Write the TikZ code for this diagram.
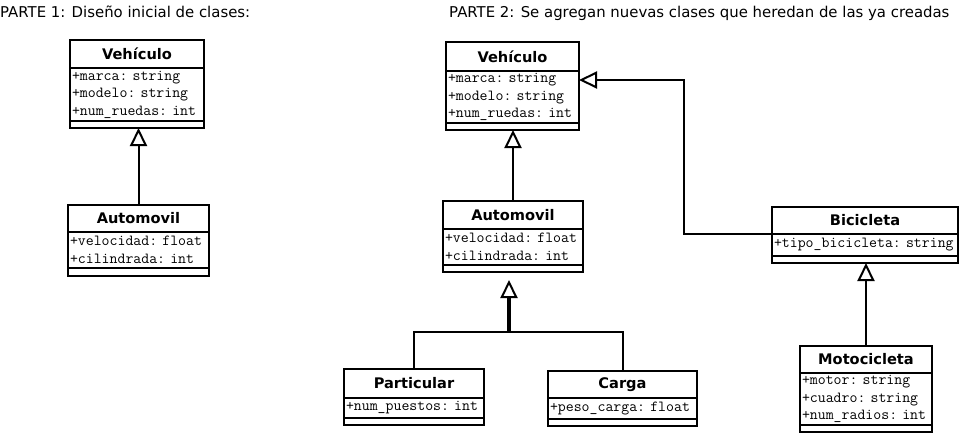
\documentclass[tikz,border=0pt]{standalone}
\usepackage{fontspec}
\setmainfont{DejaVu Sans}
\usetikzlibrary{positioning, arrows.meta}

\begin{document}
\begin{tikzpicture}[x=1pt, y=-1pt,
classname/.style={rectangle, draw=black, line width=2pt, outer sep=0pt, inner sep=0pt, minimum height=28pt, font=\fontsize{14.6}{16}\selectfont\bfseries},
classattr/.style={rectangle, draw=black, line width=2pt, outer sep=0pt, inner xsep=2pt, inner ysep=0pt, align=left, font=\fontsize{15.4}{17.5}\selectfont\ttfamily},
classops/.style={rectangle, draw=black, line width=2pt, outer sep=0pt, inner sep=0pt, minimum height=7pt},
inherit/.style={line width=2pt, -{Triangle[open, length=18pt, width=17pt, fill=white]}},
parttitle/.style={anchor=base west, inner sep=0pt, font=\fontsize{14.9}{16}\selectfont},
]
\useasboundingbox (0,0) rectangle (961,434);

%Titles
\node[parttitle] (p1) at (0,17) {PARTE 1: Diseño inicial de clases:};
\node[parttitle] (p2) at (449,17) {PARTE 2: Se agregan nuevas clases que heredan de las ya creadas};

%Part 1 classes
\node[classname, minimum width=134pt, anchor=north] (veh1) at (137,40) {Vehículo};
\node[classattr, text width=130pt, minimum height=53pt, below=0pt of veh1] (veh1a) {+marca:~string\\+modelo:~string\\+num\_ruedas:~int};
\node[classops, minimum width=134pt, below=0pt of veh1a] (veh1o) {};

\node[classname, minimum width=141pt, minimum height=27pt, anchor=north] (auto1) at (138.5,205) {Automovil};
\node[classattr, text width=137pt, minimum height=36pt, below=0pt of auto1] (auto1a) {+velocidad:~float\\+cilindrada:~int};
\node[classops, minimum width=141pt, minimum height=8pt, below=0pt of auto1a] (auto1o) {};

%Part 2 classes
\node[classname, minimum width=133pt, minimum height=29pt, anchor=north] (veh2) at (512.5,42) {Vehículo};
\node[classattr, text width=129pt, minimum height=52pt, below=0pt of veh2] (veh2a) {+marca:~string\\+modelo:~string\\+num\_ruedas:~int};
\node[classops, minimum width=133pt, below=0pt of veh2a] (veh2o) {};

\node[classname, minimum width=140pt, anchor=north] (auto2) at (513,201) {Automovil};
\node[classattr, text width=136pt, minimum height=36pt, below=0pt of auto2] (auto2a) {+velocidad:~float\\+cilindrada:~int};
\node[classops, minimum width=140pt, below=0pt of auto2a] (auto2o) {};

\node[classname, minimum width=140pt, minimum height=29pt, anchor=north] (part) at (414,369) {Particular};
\node[classattr, text width=136pt, minimum height=20pt, below=0pt of part] (parta) {+num\_puestos:~int};
\node[classops, minimum width=140pt, below=0pt of parta] (parto) {};

\node[classname, minimum width=149pt, minimum height=27pt, anchor=north] (carga) at (622.5,371) {Carga};
\node[classattr, text width=145pt, minimum height=21pt, below=0pt of carga] (cargaa) {+peso\_carga:~float};
\node[classops, minimum width=149pt, below=0pt of cargaa] (cargao) {};

\node[classname, minimum width=186pt, minimum height=27pt, anchor=north] (bici) at (865,207) {Bicicleta};
\node[classattr, text width=182pt, minimum height=22pt, below=0pt of bici] (bicia) {+tipo\_bicicleta:~string};
\node[classops, minimum width=186pt, below=0pt of bicia] (bicio) {};

\node[classname, minimum width=132pt, minimum height=27pt, anchor=north] (moto) at (866,346) {Motocicleta};
\node[classattr, text width=128pt, minimum height=52pt, below=0pt of moto] (motoa) {+motor:~string\\+cuadro:~string\\+num\_radios:~int};
\node[classops, minimum width=132pt, below=0pt of motoa] (motoo) {};

%Lines
\coordinate (bicibend) at (684,80);
\coordinate (genjoin) at (509,332);
\coordinate (genstem) at (509,298);
\coordinate (gentip) at (509,280);
\draw[inherit] (auto1.north) -- (auto1.north |- veh1o.south);
\draw[inherit] (auto2.north) -- (auto2.north |- veh2o.south);
\draw[inherit] (bici.south west) -| (bicibend) -- (veh2a.east |- bicibend);
\draw[line width=2pt] (part.north) |- (genjoin);
\draw[line width=2pt] (carga.north) |- (genjoin);
\draw[inherit] (genjoin) -- (gentip);
\draw[line width=3.5pt] (genjoin) -- (genstem);
\draw[inherit] (moto.north) -- (moto.north |- bicio.south);
\end{tikzpicture}
\end{document}
